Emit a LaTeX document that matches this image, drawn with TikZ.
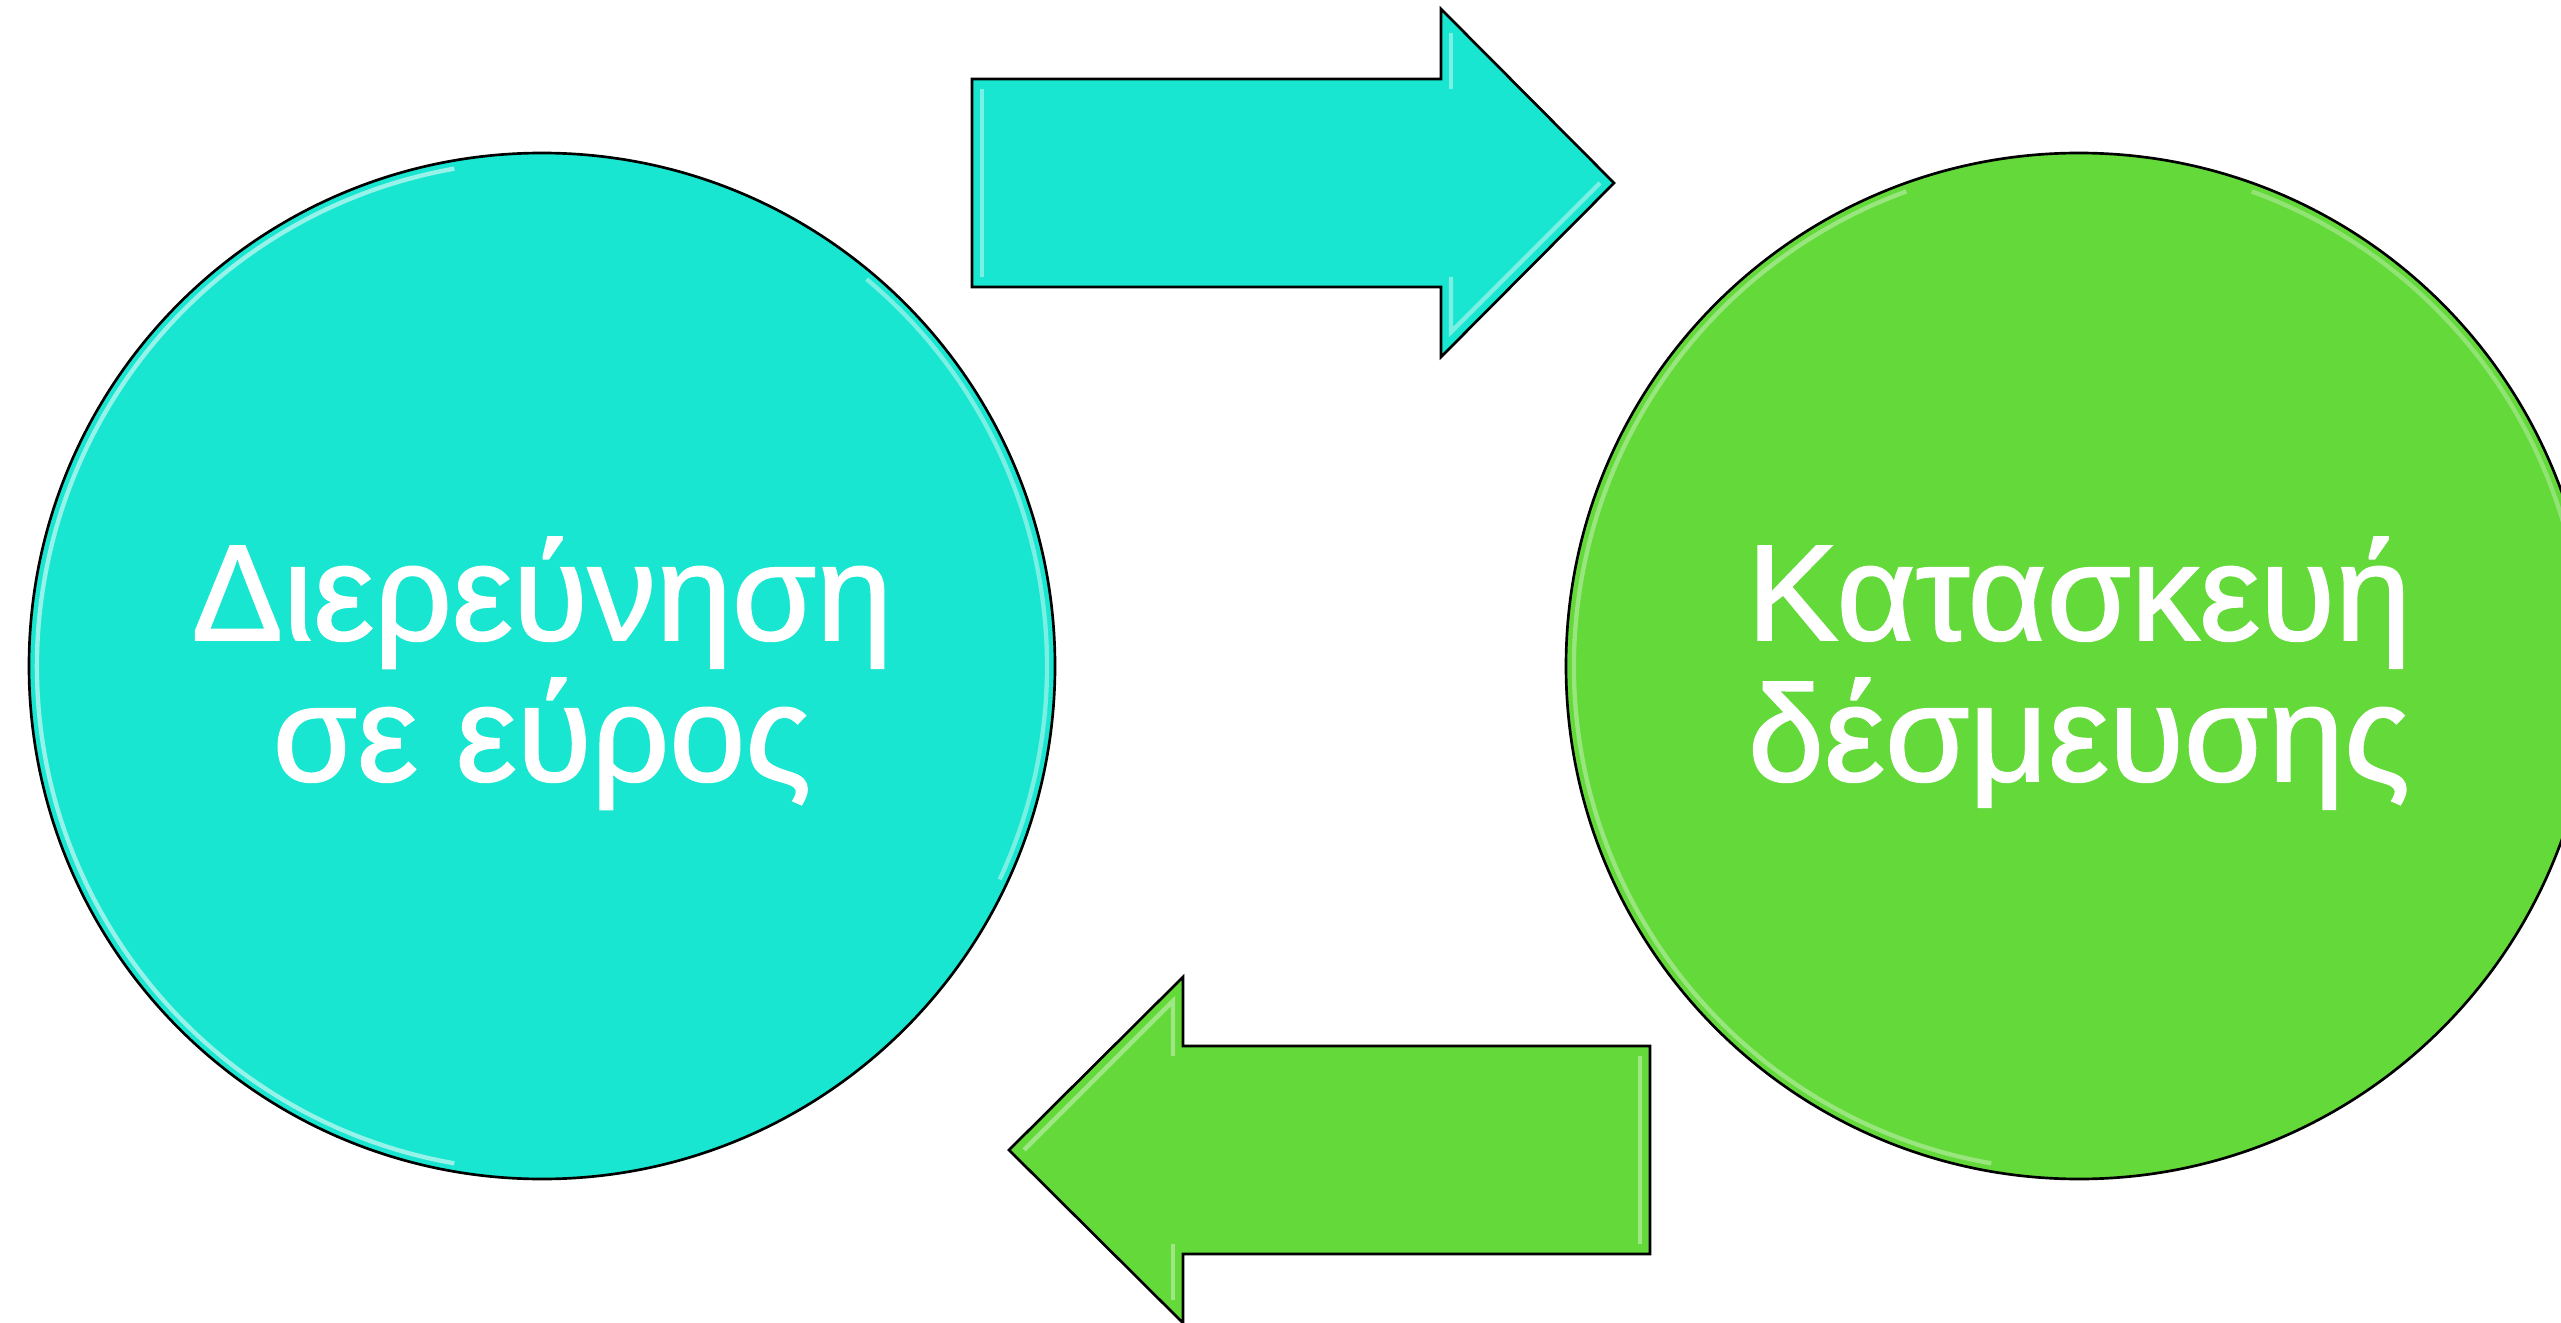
\documentclass[tikz,border=0pt]{standalone}
\usepackage{fontspec}
\setmainfont{Liberation Sans}
\newfontfamily\capfont[FakeBold=1.3]{Liberation Sans}
\definecolor{aqua}{RGB}{24,230,208}
\definecolor{leaf}{RGB}{99,217,58}
\begin{document}
\begin{tikzpicture}[x=0.3pt,y=-0.3pt,
  outline/.style={draw=black,line width=0.8pt,line join=miter},
  bevel/.style={line width=1.3pt,opacity=0.7,line join=miter},
  disc/.style={circle,outline,minimum size=1026*0.3pt,inner sep=0pt},
  lbl/.style={text=white,font=\capfont\fontsize{41}{45}\selectfont,inner sep=0pt,anchor=base}]
\useasboundingbox (0,0) rectangle (2561,1323);
\fill[white] (0,0) rectangle (2561,1323);

% the two stages
\node[disc,fill=aqua] (explore) at (542,666) {};
\node[disc,fill=leaf] (commit) at (2079,666) {};
\draw[bevel,draw=white!65!aqua,opacity=0.85] (explore.center) ++(100:505) arc[start angle=100,end angle=260,radius=505];
\draw[bevel,draw=white!60!aqua,opacity=0.7] (explore.center) ++(-50:505) arc[start angle=-50,end angle=25,radius=505];
\draw[bevel,draw=white!50!leaf,opacity=0.7] (commit.center) ++(100:505) arc[start angle=100,end angle=250,radius=505];
\draw[bevel,draw=white!50!leaf,opacity=0.6] (commit.center) ++(-70:505) arc[start angle=-70,end angle=-10,radius=505];

% captions
\node[lbl] (explore1) at (542,640) {Διερεύνηση};
\node[lbl] (explore2) at (542,781) {σε εύρος};
\node[lbl] (commit1) at (2079,640) {Κατασκευή};
\node[lbl] (commit2) at (2079,781) {δέσμευσης};

% forward arrow
\fill[aqua] (972,79) -- (1441,79) -- (1441,9) -- (1614,183) -- (1441,357) -- (1441,287) -- (972,287) -- cycle;
\draw[bevel,draw=white!60!aqua] (982,89) -- (982,277);
\draw[bevel,draw=white!60!aqua] (1451,33) -- (1451,89);
\draw[bevel,draw=white!60!aqua] (1451,277) -- (1451,332) -- (1600,183);
\draw[outline] (972,79) -- (1441,79) -- (1441,9) -- (1614,183) -- (1441,357) -- (1441,287) -- (972,287) -- cycle;

% backward arrow
\fill[leaf] (1650,1046) -- (1183,1046) -- (1183,977) -- (1009,1150) -- (1183,1323) -- (1183,1254) -- (1650,1254) -- cycle;
\draw[bevel,draw=white!55!leaf] (1024,1150) -- (1173,1001) -- (1173,1056);
\draw[bevel,draw=white!55!leaf] (1173,1244) -- (1173,1300);
\draw[bevel,draw=white!55!leaf] (1640,1056) -- (1640,1244);
\draw[outline] (1650,1046) -- (1183,1046) -- (1183,977) -- (1009,1150) -- (1183,1323) -- (1183,1254) -- (1650,1254) -- cycle;
\end{tikzpicture}
\end{document}
